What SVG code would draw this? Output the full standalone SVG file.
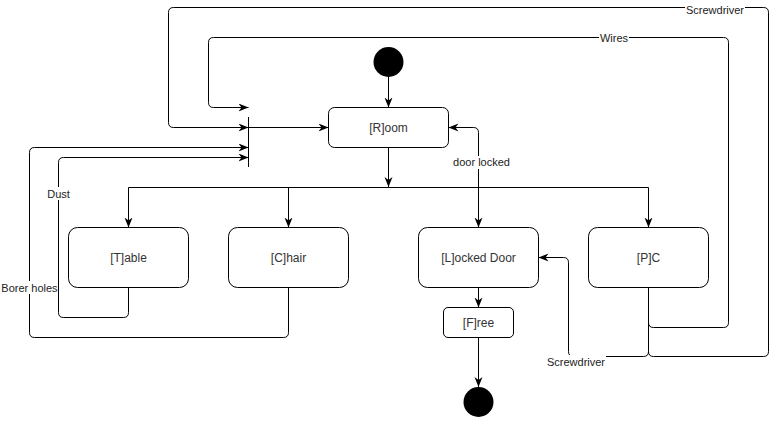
<svg xmlns="http://www.w3.org/2000/svg" width="777" height="426" viewBox="0 0 777 426">
<style>
.node{fill:#fff;stroke:#000;stroke-width:1}
.nt{font-family:"Liberation Sans",Arial,sans-serif;font-size:12px;fill:#333;text-anchor:middle}
.lt{font-family:"Liberation Sans",Arial,sans-serif;font-size:11px;fill:#222;text-anchor:middle}
.e{fill:none;stroke:#000;stroke-width:1}
.a{marker-end:url(#arr)}
.bg{fill:#fff;stroke:none}
</style>
<defs>
<marker id="arr" markerUnits="userSpaceOnUse" markerWidth="11" markerHeight="9" refX="10" refY="4" orient="auto">
<path d="M0,0 L10,4 L0,8 L3,4 z" fill="#000"/>
</marker>
</defs>
<rect width="777" height="426" fill="#fff"/>
<g id="connectors">
<path class="e a" d="M388.5,77 V107.5"/>
<path class="e a" d="M388.5,147.5 V187"/>
<path class="e a" d="M388.5,187.5 H128.5 V227.5"/>
<path class="e a" d="M288.5,187.5 V227.5"/>
<path class="e a" d="M388.5,187.5 H478.5 V227.5"/>
<path class="e a" d="M388.5,187.5 H648.5 V227.5"/>
<path class="e a" d="M478.5,227.5 V132.5 Q478.5,127.5 473.5,127.5 H448.5"/>
<path class="e a" d="M128.5,287.5 V312.5 Q128.5,317.5 123.5,317.5 H63.5 Q58.5,317.5 58.5,312.5 V162.5 Q58.5,157.5 63.5,157.5 H248.5"/>
<path class="e a" d="M288.5,287.5 V332.5 Q288.5,337.5 283.5,337.5 H34.5 Q29.5,337.5 29.5,332.5 V152.5 Q29.5,147.5 34.5,147.5 H248.5"/>
<path class="e a" d="M648.5,287.5 V322.5 Q648.5,327.5 653.5,327.5 H723.5 Q728.5,327.5 728.5,322.5 V42.5 Q728.5,37.5 723.5,37.5 H213.5 Q208.5,37.5 208.5,42.5 V102.5 Q208.5,107.5 213.5,107.5 H248.5"/>
<path class="e a" d="M648.5,287.5 V351.5 Q648.5,356.5 653.5,356.5 H763.5 Q768.5,356.5 768.5,351.5 V12.5 Q768.5,7.5 763.5,7.5 H173.5 Q168.5,7.5 168.5,12.5 V122.5 Q168.5,127.5 173.5,127.5 H248.5"/>
<path class="e a" d="M648.5,287.5 V351.5 Q648.5,356.5 643.5,356.5 H573.5 Q568.5,356.5 568.5,351.5 V262.5 Q568.5,257.5 563.5,257.5 H538.5"/>
<path class="e a" d="M248.5,127.5 H328.5"/>
<path class="e a" d="M478.5,287.5 V307.5"/>
<path class="e a" d="M478.5,337.5 V387"/>
<rect class="bg" x="685" y="2" width="60" height="12"/>
<text class="lt" x="715" y="14">Screwdriver</text>
<rect class="bg" x="599" y="32" width="30" height="12"/>
<text class="lt" x="614" y="42">Wires</text>
<rect class="bg" x="46" y="187" width="25" height="13"/>
<text class="lt" x="58.5" y="197.5">Dust</text>
<rect class="bg" x="1" y="281" width="57" height="13"/>
<text class="lt" x="29.5" y="291.5">Borer holes</text>
<rect class="bg" x="547" y="355" width="59" height="13"/>
<text class="lt" x="576" y="365.5">Screwdriver</text>
<rect class="bg" x="453" y="156" width="57" height="13"/>
<text class="lt" x="481.5" y="166">door locked</text>
</g>
<g id="start"><circle cx="388.5" cy="62" r="15" fill="#000"/></g>
<g id="end"><circle cx="478.5" cy="402" r="15" fill="#000"/></g>
<g id="bar"><line x1="248.5" y1="117" x2="248.5" y2="167" stroke="#000" stroke-width="1"/></g>
<g id="room"><rect class="node" x="328.5" y="107.5" width="120" height="40" rx="6"/><text class="nt" x="388.5" y="131.5">[R]oom</text></g>
<g id="table"><rect class="node" x="68.5" y="227.5" width="120" height="60" rx="9"/><text class="nt" x="128.5" y="261.5">[T]able</text></g>
<g id="chair"><rect class="node" x="228.5" y="227.5" width="120" height="60" rx="9"/><text class="nt" x="288.5" y="261.5">[C]hair</text></g>
<g id="locked"><rect class="node" x="418.5" y="227.5" width="120" height="60" rx="9"/><text class="nt" x="478.5" y="261.5">[L]ocked Door</text></g>
<g id="pc"><rect class="node" x="588.5" y="227.5" width="120" height="60" rx="9"/><text class="nt" x="648.5" y="261.5">[P]C</text></g>
<g id="free"><rect class="node" x="443.5" y="307.5" width="70" height="30" rx="4.5"/><text class="nt" x="478.5" y="326.5">[F]ree</text></g>
</svg>
